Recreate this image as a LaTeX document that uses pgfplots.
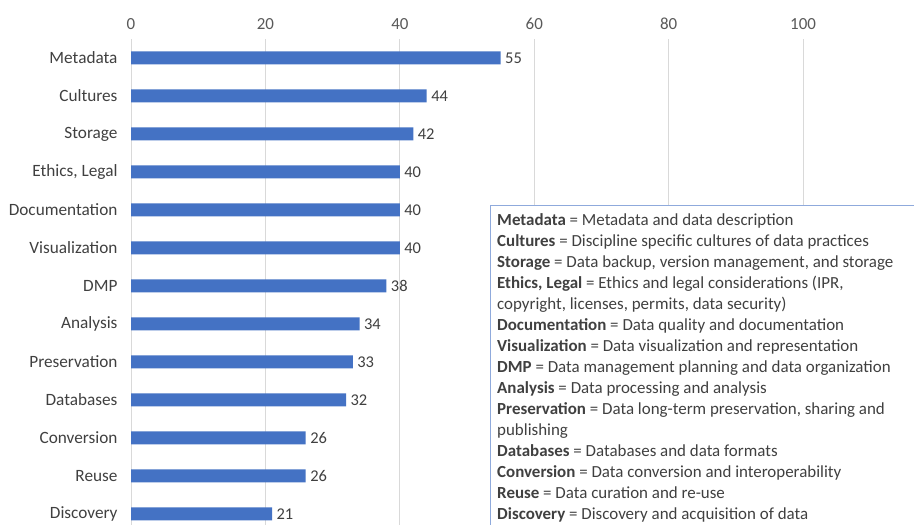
\documentclass[border=0pt]{standalone}
\usepackage{pgfplots}
\pgfplotsset{compat=1.18}
\usepackage{fontspec}
\setmainfont{Carlito}
\definecolor{barblue}{HTML}{4472C4}
\definecolor{txt}{HTML}{404040}
\definecolor{tick}{HTML}{595959}
\definecolor{gridc}{HTML}{D9D9D9}
\definecolor{boxc}{HTML}{8FAADC}
\begin{document}
\begin{tikzpicture}
\path[clip, use as bounding box] (0,0) rectangle (914bp,525bp);
\fill[white] (0,0) rectangle (914bp,525bp);
\begin{axis}[
  at={(131bp,486bp)}, anchor=north west,
  scale only axis, width=783bp, height=486bp,
  xmin=0, xmax=116.5, ymin=-0.29, ymax=12.5,
  axis line style={draw=none},
  xbar, bar width=13bp,
  xtick={0,20,40,60,80,100},
  xticklabel pos=top,
  ytick={0,...,12},
  yticklabels={Discovery,Reuse,Conversion,Databases,Preservation,Analysis,DMP,Visualization,Documentation,{Ethics, Legal},Storage,Cultures,Metadata},
  major tick length=0pt,
  xmajorgrids, grid style={gridc, line width=0.8pt},
  xticklabel style={font=\fontsize{17}{18}\selectfont, text=tick, yshift=6bp},
  yticklabel style={font=\fontsize{17.3}{18}\selectfont, text=txt, xshift=-10bp},
  /pgf/number format/assume math mode=true,
  nodes near coords,
  nodes near coords style={font=\fontsize{16.5}{18}\selectfont, text=txt, xshift=1bp},
  clip=false,
]
\addplot[fill=barblue, draw=none] coordinates {
(21,0) (26,1) (26,2) (32,3) (33,4) (34,5) (38,6) (40,7) (40,8) (40,9) (42,10) (44,11) (55,12)
};
\end{axis}
\draw[boxc, fill=white, line width=0.9pt] (490bp,320bp) rectangle (930bp,-10bp);
\node[anchor=north west, align=left, inner sep=0pt, text=txt,
  font=\fontsize{17}{21.14}\selectfont] at (497bp,312bp) {%
\textbf{Metadata} = Metadata and data description\\
\textbf{Cultures} = Discipline specific cultures of data practices\\
\textbf{Storage} = Data backup, version management, and storage\\
\textbf{Ethics, Legal} = Ethics and legal considerations (IPR,\\
copyright, licenses, permits, data security)\\
\textbf{Documentation} = Data quality and documentation\\
\textbf{Visualization} = Data visualization and representation\\
\textbf{DMP} = Data management planning and data organization\\
\textbf{Analysis} = Data processing and analysis\\
\textbf{Preservation} = Data long-term preservation, sharing and\\
publishing\\
\textbf{Databases} = Databases and data formats\\
\textbf{Conversion} = Data conversion and interoperability\\
\textbf{Reuse} = Data curation and re-use\\
\textbf{Discovery} = Discovery and acquisition of data};
\end{tikzpicture}
\end{document}
